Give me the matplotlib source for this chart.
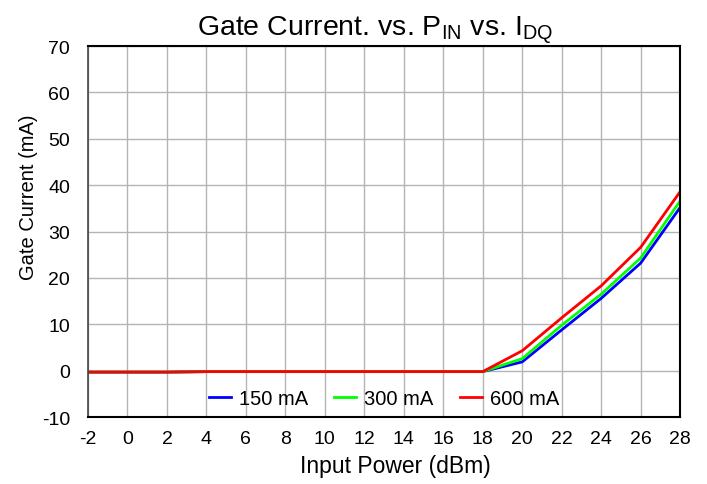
import matplotlib
matplotlib.use('Agg')
import matplotlib.pyplot as plt

plt.rcParams['font.family'] = ['Liberation Sans', 'DejaVu Sans']
plt.rcParams['mathtext.fontset'] = 'custom'
plt.rcParams['mathtext.rm'] = 'Liberation Sans'
plt.rcParams['axes.unicode_minus'] = False

# input power (dBm)
pin = [-2, 0, 2, 4, 6, 8, 10, 12, 14, 16, 18, 20, 22, 24, 26, 28]
# gate current (mA) per quiescent drain current
ig_150 = [-0.3, -0.3, -0.3, -0.2, -0.2, -0.2, -0.2, -0.2, -0.2, -0.2, -0.2, 1.9, 8.8, 15.6, 23.2, 35.2]
ig_300 = [-0.3, -0.3, -0.3, -0.2, -0.2, -0.2, -0.2, -0.2, -0.2, -0.2, -0.2, 2.6, 9.8, 16.5, 24.3, 36.6]
ig_600 = [-0.3, -0.3, -0.3, -0.2, -0.2, -0.2, -0.2, -0.2, -0.2, -0.2, -0.2, 4.3, 11.4, 18.3, 26.6, 38.6]
labels = ['150 mA', '300 mA', '600 mA']
colors = ['#0000ff', '#00ff00', '#ff0000']

fig = plt.figure(figsize=(7.07, 4.85), dpi=100)
ax = fig.add_axes([0.1245, 0.138, 0.8375, 0.765])

for y, lab, c in zip([ig_150, ig_300, ig_600], labels, colors):
    ax.plot(pin, y, color=c, lw=2, label=lab)

ax.set_xlim(-2, 28)
ax.set_ylim(-10, 70)
ax.set_xticks(range(-2, 29, 2))
ax.set_yticks(range(-10, 71, 10))
ax.grid(True, color='#b4b4b4', lw=1)
ax.set_axisbelow(True)
ax.tick_params(length=0, labelsize=14)
ax.tick_params(axis='x', pad=9)
ax.tick_params(axis='y', pad=13)

for s in ['top', 'bottom', 'right']:
    ax.spines[s].set_color('black')
    ax.spines[s].set_linewidth(1.5)
ax.spines['left'].set_color('#444444')
ax.spines['left'].set_linewidth(1.2)

ax.set_title('Gate Current. vs. P$_{\\mathrm{IN}}$ vs. I$_{\\mathrm{DQ}}$', fontsize=20.5, pad=6, x=0.485)
ax.set_xlabel('Input Power (dBm)', fontsize=16.5, va='center')
ax.xaxis.set_label_coords(0.519, -0.13)
ax.set_ylabel('Gate Current (mA)', fontsize=14.5, va='center')
ax.yaxis.set_label_coords(-0.1, 0.594)

ax.legend(loc='lower center', ncol=3, frameon=False, fontsize=14.5,
          handlelength=1.1, columnspacing=1.3, handletextpad=0.4,
          bbox_to_anchor=(0.5, -0.025))

fig.savefig('out.png', dpi=100)
